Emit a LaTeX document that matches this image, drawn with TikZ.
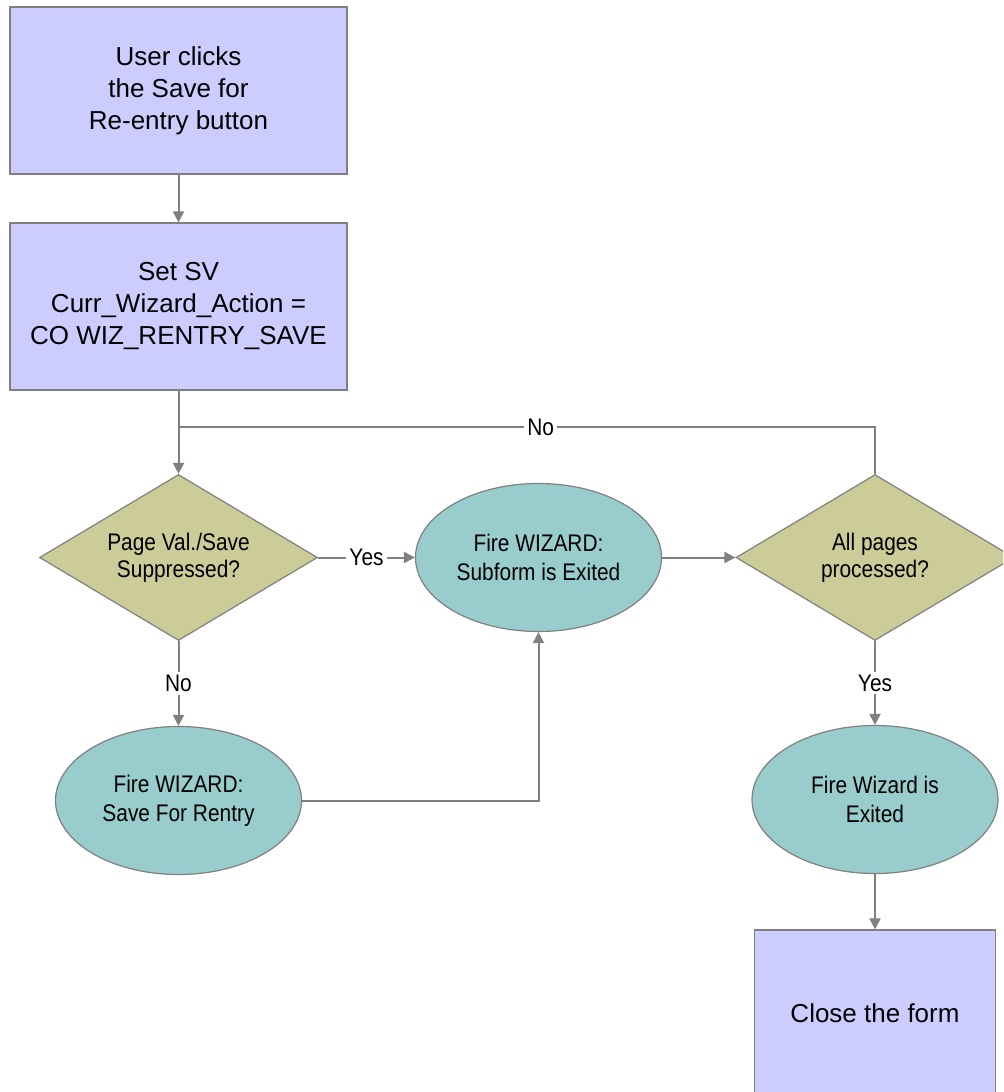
\documentclass[tikz,border=0pt]{standalone}
\usepackage{fontspec}
\setmainfont{Liberation Sans}
\newfontfamily\narrowsf[FakeStretch=0.87]{Liberation Sans}
\usetikzlibrary{shapes.geometric,arrows.meta}
\definecolor{boxblue}{RGB}{204,204,255}
\definecolor{diamolive}{RGB}{204,204,153}
\definecolor{ovalteal}{RGB}{153,204,204}
\definecolor{linegray}{RGB}{128,128,128}
\begin{document}
\begin{tikzpicture}[x=0.5pt, y=-0.5pt, >={Triangle[length=5.5pt,width=5.5pt]},
    every node/.style={font=\narrowsf\fontsize{12}{14}\selectfont, align=center},
    action/.style={rectangle, draw=linegray, fill=boxblue, line width=0.6pt,
        font=\fontsize{13}{16}\selectfont, minimum width=168.5pt, minimum height=83.5pt},
    decision/.style={diamond, draw=linegray, fill=diamolive, line width=0.6pt,
        font=\narrowsf\fontsize{12}{13.5}\selectfont,
        minimum width=139pt, minimum height=83pt, inner sep=0pt, aspect=1.67},
    event/.style={ellipse, draw=linegray, fill=ovalteal, line width=0.6pt,
        font=\narrowsf\fontsize{12}{14.5}\selectfont,
        minimum width=123pt, minimum height=74pt, inner sep=0pt},
    link/.style={draw=linegray, line width=1pt},
    lbl/.style={fill=white, inner sep=1.5pt}]
    % page size
    \clip (0,0) rectangle (1003,1092);

    % boxes
    \node[action] (click) at (178.5,90.5) {User clicks\\the Save for\\Re-entry button};
    \node[action] (setsv) at (178.5,306.5) {Set SV\\Curr\_Wizard\_Action =\\CO WIZ\_RENTRY\_SAVE};
    \node[action, minimum width=120.5pt] (close) at (875,1013.5) {Close the form};

    % decisions
    \node[decision] (suppr) at (178.5,557.5) {Page Val./Save\\Suppressed?};
    \node[decision] (allpg) at (875,557.5) {All pages\\processed?};

    % wizard events
    \node[event] (subexit) at (538.5,557.5) {Fire WIZARD:\\Subform is Exited};
    \node[event] (rentry) at (178.5,800.5) {Fire WIZARD:\\Save For Rentry};
    \node[event] (wizexit) at (875,799.5) {Fire Wizard is\\Exited};

    % connectors
    \coordinate (loop) at (178.5,427);
    \draw[link,->] (click) -- (setsv);
    \draw[link] (setsv) -- (loop);
    \draw[link,->] (loop) -- (suppr);
    \draw[link] (allpg.north) |- node[lbl, pos=0.74] {No} (loop);
    \draw[link,->] (suppr.east) -- node[lbl] {Yes} (subexit.west);
    \draw[link,->] (suppr.south) -- node[lbl] {No} (rentry.north);
    \draw[link,->] (rentry.east) -| (subexit.south);
    \draw[link,->] (subexit.east) -- (allpg.west);
    \draw[link,->] (allpg.south) -- node[lbl] {Yes} (wizexit.north);
    \draw[link,->] (wizexit) -- (close);
\end{tikzpicture}
\end{document}
